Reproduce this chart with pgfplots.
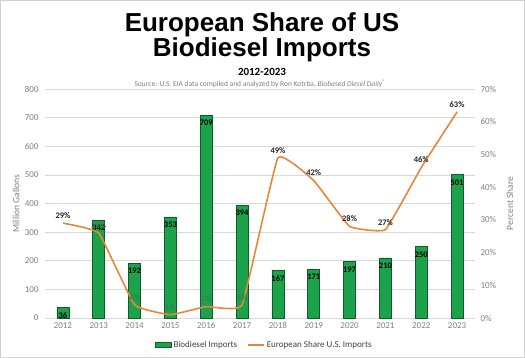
\documentclass[border=0pt]{standalone}
\usepackage{pgfplots}
\pgfplotsset{compat=1.18}
\usepackage{fontspec}
\setmainfont{Carlito}
\newfontfamily\arialfont{Liberation Sans}
\definecolor{barg}{HTML}{1BA34B}
\definecolor{bard}{HTML}{145A2C}
\definecolor{lineo}{HTML}{E8873A}
\definecolor{txtg}{HTML}{808080}
\definecolor{gridg}{HTML}{D9D9D9}
\definecolor{muted}{HTML}{3E7A50}
\begin{document}
\begin{tikzpicture}[x=1pt,y=1pt]
\path[use as bounding box] (0,0) rectangle (525,358);
\draw[gray!35, line width=0.6pt] (0.3,0.3) rectangle (524.7,357.7);
\node[anchor=base, font=\arialfont\bfseries\fontsize{26}{26}\selectfont] at (262,326) {European Share of US};
\node[anchor=base, font=\arialfont\bfseries\fontsize{26}{26}\selectfont] at (262,301) {Biodiesel Imports};
\node[anchor=base, font=\bfseries\fontsize{11}{12}\selectfont] at (262,282) {2012-2023};
\node[anchor=base, text=txtg, font=\fontsize{7.5}{8}\selectfont] at (260,271.5) {Source: U.S. EIA data compiled and analyzed by Ron Kotrba, \textit{Biobased Diesel Daily}\textsuperscript{®}};
\begin{axis}[
  at={(45pt,40pt)}, anchor=south west,
  scale only axis, width=430pt, height=229pt,
  xmin=-0.5, xmax=11.5, ymin=0, ymax=800,
  xtick={0,...,11},
  xticklabels={2012,2013,2014,2015,2016,2017,2018,2019,2020,2021,2022,2023},
  ytick={0,100,...,800},
  ymajorgrids, grid style={draw=gridg, line width=0.6pt},
  axis line style={draw=none},
  major tick length=0pt,
  /pgf/number format/assume math mode=true,
  tick label style={font=\fontsize{9}{10}\selectfont, text=txtg},
  yticklabel style={xshift=-3pt},
  xticklabel style={yshift=-1pt},
  ylabel={Million Gallons},
  ylabel style={at={(axis description cs:-0.067,0.5)}, anchor=center, font=\fontsize{9.5}{10}\selectfont, text=txtg},
  clip=false,
]
\addplot[ybar, bar width=12pt, fill=barg, draw=bard, line width=0.6pt,
  nodes near coords,
  nodes near coords style={anchor=north, yshift=-1.5pt, text=black, font=\bfseries\fontsize{8.5}{9}\selectfont},
] coordinates {
  (0,36) (1,342) (2,192) (3,353) (4,709) (5,394)
  (6,167) (7,171) (8,197) (9,210) (10,250) (11,501)
};
\end{axis}
\begin{axis}[
  at={(45pt,40pt)}, anchor=south west,
  scale only axis, width=430pt, height=229pt,
  xmin=-0.5, xmax=11.5, ymin=0, ymax=70,
  hide x axis,
  axis y line*=right,
  axis line style={draw=none},
  ytick={0,10,...,70},
  yticklabel={\pgfmathprintnumber{\tick}\%},
  major tick length=0pt,
  /pgf/number format/assume math mode=true,
  tick label style={font=\fontsize{9}{10}\selectfont, text=txtg},
  yticklabel style={xshift=2pt},
  ylabel={Percent Share},
  ylabel style={at={(axis description cs:1.081,0.5)}, anchor=center, font=\fontsize{9.5}{10}\selectfont, text=txtg},
  clip=false,
  legend style={at={(0.51,-0.118)}, anchor=center, draw=none, fill=none,
    legend columns=2, font=\fontsize{9}{10}\selectfont, text=black!75,
    /tikz/every even column/.append style={column sep=8pt}},
]
\addlegendimage{legend image code/.code={\draw[fill=barg, draw=bard, line width=0.5pt] (0pt,-2.5pt) rectangle (16pt,2.5pt);}}
\addlegendentry{Biodiesel Imports}
\addplot[color=lineo, line width=1.6pt, smooth, tension=0.18, mark=none,
  legend image code/.code={\draw[lineo, line width=1.6pt] (0pt,0pt) -- (16pt,0pt);}] coordinates {
  (0,29) (1,26) (2,4) (3,1) (4,3.5) (5,4)
  (6,49) (7,42) (8,28) (9,27) (10,46) (11,63)
};
\addlegendentry{European Share U.S. Imports}
\addplot[draw=none, mark=none, forget plot,
  nodes near coords={\pgfmathprintnumber{\pgfplotspointmeta}\%}, point meta=explicit,
  nodes near coords style={anchor=south, yshift=1pt, text=black!85, font=\bfseries\fontsize{8.5}{9}\selectfont},
] coordinates {
  (0,29) [29] (6,49) [49] (7,42) [42] (8,28) [28] (9,27) [27] (10,46) [46] (11,63) [63]
};
\addplot[draw=none, mark=none, forget plot,
  nodes near coords={\pgfmathprintnumber{\pgfplotspointmeta}\%}, point meta=explicit,
  nodes near coords style={anchor=south, yshift=1pt, text=muted, font=\bfseries\fontsize{8.5}{9}\selectfont},
] coordinates {
  (1,26) [26] (2,4) [4] (3,1) [1] (4,3.5) [3] (5,4) [4]
};
\end{axis}
\end{tikzpicture}
\end{document}
